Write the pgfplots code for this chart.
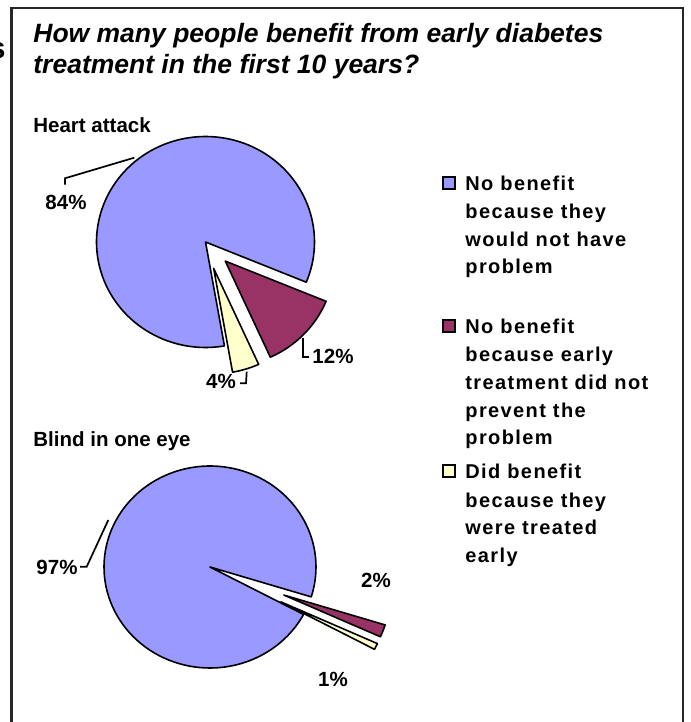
\documentclass[border=0pt]{standalone}
\usepackage{pgfplots}
\pgfplotsset{compat=1.18}
\usepackage{fontspec}
\setmainfont{Liberation Sans}
\newfontfamily\legfont[LetterSpace=7]{Liberation Sans}
\definecolor{pblue}{HTML}{9999FF}
\definecolor{pred}{HTML}{993366}
\definecolor{pyel}{HTML}{FFFFCC}

% data: percentages of each pie
\def\heartA{84}\def\heartB{12}\def\heartC{4}
\def\blindA{97}\def\blindB{2}\def\blindC{1}

% pie slice: cx cy rx ry pct explode colour ; start angle in \curang (clockwise)
\newcommand{\pieslice}[7]{%
  \pgfmathsetmacro\aend{\curang-3.6*#5}%
  \pgfmathsetmacro\amid{(\curang+\aend)/2}%
  \pgfmathsetmacro\tx{#1+#6*cos(\amid)}%
  \pgfmathsetmacro\ty{#2-#6*sin(\amid)}%
  \edef\temp{\noexpand\addplot[fill=#7, draw=black, line width=0.8pt, line join=round,
     domain=\aend:\curang, samples=120]
     ({\tx+#3*cos(x)}, {\ty-#4*sin(x)}) -- (axis cs:\tx,\ty) -- cycle;}%
  \temp
  \xdef\curang{\aend}%
}

\begin{document}
\begin{tikzpicture}
\begin{axis}[at={(0,0)}, anchor=south west, scale only axis,
  width=345pt, height=361pt, xmin=0, xmax=690, ymin=0, ymax=722,
  y dir=reverse, hide axis, clip=false]

% frame
\addplot[black!85, line width=1.1pt] coordinates {(11.5,740) (11.5,8) (683,8) (683,740)};

% clipped fragment at the left edge
\node[anchor=base east, font=\bfseries\fontsize{15}{17}\selectfont, inner sep=0pt] at (axis cs:6,59) {s};

% title
\node[anchor=base west, inner sep=0pt, font=\bfseries\itshape\fontsize{13.25}{15}\selectfont] at (axis cs:33,42.5) {How many people benefit from early diabetes};
\node[anchor=base west, inner sep=0pt, font=\bfseries\itshape\fontsize{13.25}{15}\selectfont] at (axis cs:33,74) {treatment in the first 10 years?};

% subtitles
\node[anchor=base west, inner sep=0pt, font=\bfseries\fontsize{10.25}{12}\selectfont] at (axis cs:33,133) {Heart attack};
\node[anchor=base west, inner sep=0pt, font=\bfseries\fontsize{10.25}{12}\selectfont] at (axis cs:33,446) {Blind in one eye};

% heart attack pie
\gdef\curang{-80}
\pieslice{205.5}{242}{109}{105.5}{\heartA}{0}{pblue}
\pieslice{205.5}{242}{109}{105.5}{\heartB}{27.5}{pred}
\pieslice{205.5}{242}{109}{105.5}{\heartC}{27.5}{pyel}

% blind pie
\gdef\curang{-28}
\pieslice{210}{567}{106}{101}{\blindA}{0}{pblue}
\pieslice{210}{567}{106}{101}{\blindB}{79}{pred}
\pieslice{210}{567}{106}{101}{\blindC}{79}{pyel}

% leader lines
\addplot[black, line width=0.85pt] coordinates {(134.3,157.7) (65,178.3) (65,184.5)};
\addplot[black, line width=0.85pt] coordinates {(303,338) (303,356.7) (309,356.7)};
\addplot[black, line width=0.85pt] coordinates {(246.7,371.7) (246,383.3) (240,383.3)};
\addplot[black, line width=0.85pt] coordinates {(108.3,520) (86.7,566.7) (80,566.7)};

% data labels
\tikzset{lab/.style={inner sep=0pt, font=\bfseries\fontsize{10.25}{12}\selectfont}}
\node[lab] at (axis cs:66,202) {84\%};
\node[lab] at (axis cs:333,356) {12\%};
\node[lab] at (axis cs:221,381) {4\%};
\node[lab] at (axis cs:57,567) {97\%};
\node[lab] at (axis cs:376,580) {2\%};
\node[lab] at (axis cs:333,679) {1\%};

% legend
\tikzset{leg/.style={anchor=base west, inner sep=0pt, font=\legfont\bfseries\fontsize{10}{12}\selectfont}}
\draw[fill=pblue, line width=0.8pt] (axis cs:443,177) rectangle (axis cs:455,189);
\draw[fill=pred, line width=0.8pt] (axis cs:443,320) rectangle (axis cs:455,332);
\draw[fill=pyel, line width=0.8pt] (axis cs:443,465) rectangle (axis cs:455,477);
\node[leg] at (axis cs:465,190) {No benefit};
\node[leg] at (axis cs:465,218) {because they};
\node[leg] at (axis cs:465,246) {would not have};
\node[leg] at (axis cs:465,273) {problem};
\node[leg] at (axis cs:465,333) {No benefit};
\node[leg] at (axis cs:465,361) {because early};
\node[leg] at (axis cs:465,389) {treatment did not};
\node[leg] at (axis cs:465,417) {prevent the};
\node[leg] at (axis cs:465,444) {problem};
\node[leg] at (axis cs:465,478) {Did benefit};
\node[leg] at (axis cs:465,507) {because they};
\node[leg] at (axis cs:465,534) {were treated};
\node[leg] at (axis cs:465,562) {early};
\end{axis}
\pgfresetboundingbox
\useasboundingbox (0,0) rectangle (345pt,361pt);
\end{tikzpicture}
\end{document}
